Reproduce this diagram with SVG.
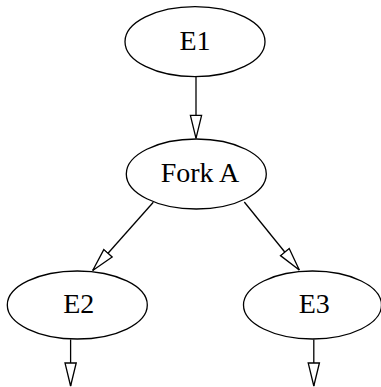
<svg xmlns="http://www.w3.org/2000/svg" width="381" height="387" viewBox="0 0 381 387">
<style>
.node ellipse{fill:#fff;stroke:#000;stroke-width:1.3}
.node text{font-family:"Liberation Serif","Times New Roman",serif;font-size:28px;fill:#000;text-anchor:middle}
.edge{fill:none;stroke:#000;stroke-width:1.3}
</style>
<defs>
<marker id="ah" markerUnits="userSpaceOnUse" markerWidth="26" markerHeight="14" viewBox="-1 -7 26 14" refX="23" refY="0" orient="auto">
<path d="M0,-5.6 L23,0 L0,5.6 Z" fill="#fff" stroke="#000" stroke-width="1.3"/>
</marker>
</defs>
<rect width="381" height="387" fill="#fff"/>
<g id="edges">
<path class="edge" d="M196,77 L196,138.3" marker-end="url(#ah)"/>
<path class="edge" d="M153.3,202.3 L92.7,270.5" marker-end="url(#ah)"/>
<path class="edge" d="M244.3,202 L299.3,270" marker-end="url(#ah)"/>
<path class="edge" d="M70.6,339.5 L70.6,386" marker-end="url(#ah)"/>
<path class="edge" d="M313.8,339.5 L313.8,386" marker-end="url(#ah)"/>
</g>
<g id="E1" class="node"><ellipse cx="195" cy="41.7" rx="70" ry="35"/><text x="195" y="49.5">E1</text></g>
<g id="ForkA" class="node"><ellipse cx="196.3" cy="174" rx="70" ry="35"/><text x="200" y="181.7">Fork A</text></g>
<g id="E2" class="node"><ellipse cx="77.3" cy="305" rx="70" ry="34"/><text x="78.7" y="312.7">E2</text></g>
<g id="E3" class="node"><ellipse cx="312.5" cy="305" rx="69" ry="34"/><text x="314.3" y="313">E3</text></g>
</svg>
